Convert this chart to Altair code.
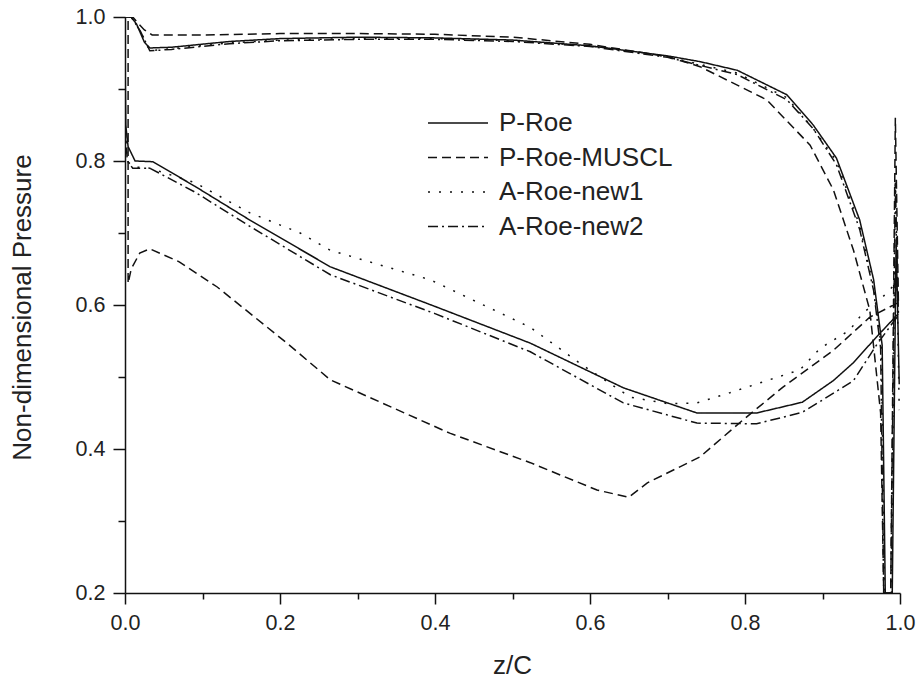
import altair as alt
import pandas as pd

# ---- data ----
series_names = ["P-Roe", "P-Roe-MUSCL", "A-Roe-new1", "A-Roe-new2"]

# P-Roe (solid): lower surface TE->LE, then upper surface LE->TE, then TE spike
p_roe_z = [0.998, 0.97, 0.94, 0.914, 0.874, 0.815, 0.738, 0.643, 0.523, 0.40, 0.265, 0.161, 0.09, 0.036, 0.013, 0.004, 0.001, 0.0, 0.0,
           0.008, 0.015, 0.025, 0.032, 0.06, 0.135, 0.2, 0.3, 0.4, 0.5, 0.6, 0.7, 0.742, 0.79, 0.854, 0.888, 0.918, 0.948, 0.966, 0.977,
           0.981, 0.99, 0.995, 0.999]
p_roe_p = [0.588, 0.556, 0.52, 0.495, 0.465, 0.45, 0.45, 0.485, 0.547, 0.598, 0.653, 0.718, 0.765, 0.799, 0.80, 0.82, 0.85, 0.95, 1.0,
           1.0, 0.99, 0.965, 0.957, 0.958, 0.966, 0.970, 0.972, 0.971, 0.968, 0.96, 0.946, 0.938, 0.926, 0.892, 0.85, 0.804, 0.718, 0.635, 0.544,
           0.2, 0.2, 0.69, 0.49]

# P-Roe-MUSCL (dashed)
muscl_z = [0.997, 0.961, 0.914, 0.849, 0.797, 0.742, 0.674, 0.65, 0.609, 0.523, 0.419, 0.265, 0.209, 0.119, 0.07, 0.032, 0.019, 0.008, 0.004, 0.004,
           0.01, 0.018, 0.025, 0.035, 0.1, 0.2, 0.3, 0.4, 0.5, 0.6, 0.7, 0.742, 0.828, 0.884, 0.914, 0.94, 0.961, 0.975,
           0.979, 0.988, 0.994, 0.998]
muscl_p = [0.603, 0.583, 0.537, 0.486, 0.44, 0.389, 0.353, 0.333, 0.343, 0.381, 0.422, 0.496, 0.547, 0.625, 0.66, 0.678, 0.672, 0.65, 0.63, 1.0,
           1.0, 0.99, 0.982, 0.975, 0.975, 0.977, 0.977, 0.976, 0.972, 0.962, 0.945, 0.931, 0.885, 0.822, 0.76, 0.676, 0.593, 0.45,
           0.2, 0.2, 0.86, 0.6]

# A-Roe-new1 (dotted)
new1_z = [0.99, 0.974, 0.952, 0.935, 0.897, 0.871, 0.78, 0.738, 0.70, 0.652, 0.587, 0.523, 0.394, 0.265, 0.226, 0.161, 0.09, 0.032, 0.01, 0.003, 0.0, 0.0,
          0.008, 0.02, 0.032, 0.06, 0.135, 0.2, 0.3, 0.4, 0.5, 0.6, 0.7, 0.79, 0.854, 0.888, 0.918, 0.948, 0.966, 0.976,
          0.98, 0.989, 0.994, 0.999]
new1_p = [0.625, 0.607, 0.589, 0.565, 0.54, 0.51, 0.478, 0.464, 0.463, 0.472, 0.519, 0.569, 0.635, 0.676, 0.70, 0.728, 0.77, 0.79, 0.792, 0.80, 0.85, 1.0,
          1.0, 0.98, 0.953, 0.956, 0.964, 0.968, 0.97, 0.97, 0.967, 0.96, 0.945, 0.922, 0.888, 0.845, 0.80, 0.71, 0.625, 0.54,
          0.2, 0.2, 0.77, 0.454]

# A-Roe-new2 (dash-dot)
new2_z = [0.996, 0.97, 0.94, 0.897, 0.874, 0.815, 0.738, 0.643, 0.523, 0.40, 0.265, 0.16, 0.09, 0.032, 0.01, 0.003, 0.0, 0.0,
          0.008, 0.02, 0.032, 0.06, 0.135, 0.2, 0.3, 0.4, 0.5, 0.6, 0.7, 0.79, 0.854, 0.888, 0.918, 0.948, 0.966, 0.975,
          0.979, 0.988, 0.994, 0.998]
new2_p = [0.583, 0.545, 0.495, 0.466, 0.451, 0.435, 0.436, 0.464, 0.535, 0.588, 0.642, 0.71, 0.757, 0.79, 0.79, 0.80, 0.85, 1.0,
          1.0, 0.98, 0.953, 0.955, 0.963, 0.967, 0.969, 0.969, 0.966, 0.959, 0.944, 0.92, 0.885, 0.845, 0.795, 0.705, 0.62, 0.54,
          0.2, 0.2, 0.77, 0.585]

x_ticks = [0.0, 0.1, 0.2, 0.3, 0.4, 0.5, 0.6, 0.7, 0.8, 0.9, 1.0]
y_ticks = [0.2, 0.3, 0.4, 0.5, 0.6, 0.7, 0.8, 0.9, 1.0]
dashes = [[1, 0], [9, 5], [2, 9], [10, 4, 2, 4]]

rows = []
for name, zs, ps in zip(series_names,
                        [p_roe_z, muscl_z, new1_z, new2_z],
                        [p_roe_p, muscl_p, new1_p, new2_p]):
    for i, (z, p) in enumerate(zip(zs, ps)):
        rows.append({"series": name, "z": z, "p": p, "i": i})
df = pd.DataFrame(rows)

FONT = "Liberation Sans"
major_test = "round(datum.value*10) % 2 == 0"
label_expr = "round(datum.value*10) % 2 == 0 ? format(datum.value, '.1f') : ''"

x_axis = alt.Axis(
    values=x_ticks, labelExpr=label_expr, grid=False, title="z/C",
    tickSize={"condition": {"test": major_test, "value": 11}, "value": 6},
    labelFlush=False, labelOverlap=False, labelPadding=8,
    titleX=387, titleY=72, titleBaseline="middle", titleAlign="center",
)
y_axis = alt.Axis(
    values=y_ticks, labelExpr=label_expr, grid=False, title="Non-dimensional Pressure",
    tickSize={"condition": {"test": major_test, "value": 12}, "value": 7},
    labelFlush=False, labelOverlap=False, labelPadding=8,
    titleX=-103, titleY=290, titleBaseline="middle", titleAlign="center",
)

chart = alt.Chart(df).mark_line(strokeWidth=1.5, color="#111", clip=True).encode(
    x=alt.X("z:Q", scale=alt.Scale(domain=[0, 1], nice=False, zero=False), axis=x_axis),
    y=alt.Y("p:Q", scale=alt.Scale(domain=[0.2, 1.0], nice=False, zero=False), axis=y_axis),
    strokeDash=alt.StrokeDash(
        "series:N",
        scale=alt.Scale(domain=series_names, range=dashes),
        legend=alt.Legend(
            title=None, orient="none", legendX=302, legendY=89,
            symbolType="stroke", symbolSize=3600, symbolStrokeWidth=1.5,
            symbolStrokeColor="#111", labelFont=FONT, labelFontSize=26,
            labelColor="#222", labelOffset=10, labelLimit=400,
            clipHeight=34, rowPadding=0.5,
        ),
    ),
    order=alt.Order("i:Q"),
).properties(
    width=775, height=576,
    padding={"left": 125, "top": 17, "right": 19, "bottom": 91},
    autosize=alt.AutoSizeParams(type="none"),
).configure_view(
    strokeWidth=0
).configure_axis(
    domainColor="#111", domainWidth=1.5, tickColor="#111", tickWidth=1.5,
    labelFont=FONT, labelFontSize=21.5, labelColor="#222",
    titleFont=FONT, titleFontSize=26, titleColor="#222", titleFontWeight="normal",
)

chart.save("out.html", embed_options={"renderer": "svg", "actions": False})
